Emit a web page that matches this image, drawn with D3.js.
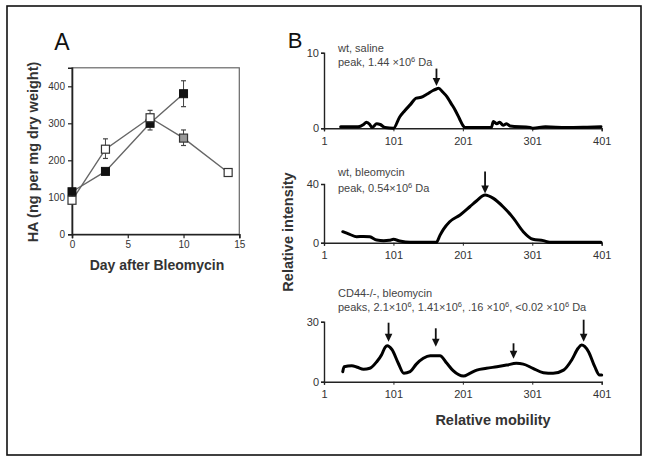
<!DOCTYPE html>
<html><head><meta charset="utf-8">
<script src="https://cdn.jsdelivr.net/npm/d3@7"></script>
<style>
body{margin:0;background:#fff;}
text{font-family:"Liberation Sans",Arial,Helvetica,sans-serif;}
</style></head>
<body>
<svg id="c" width="649" height="464"></svg>
<script>
// ---------- Panel A data ----------
const daysBlack = [0, 3, 7, 10];
const haBlack   = [115, 170, 300, 380];
const errBlackLo = [0, 0, 18, 35];
const errBlackHi = [0, 0, 0, 35];
const daysOpen  = [0, 3, 7, 10, 14];
const haOpen    = [92, 230, 315, 260, 167];
const errOpenLo = [0, 25, 0, 20, 0];
const errOpenHi = [0, 28, 20, 22, 0];
const openFill  = ["#fff", "#fff", "#fff", "#999", "#fff"];
const aXTicks = [0, 5, 10, 15];
const aYTicks = [0, 100, 200, 300, 400];

// ---------- Panel B data ----------
const mobTicks = [1, 101, 201, 301, 401];
const salineMob = [25,50,58,62,67,70,77,82,89,101,110,117,125,134,141,149,158,163,166,172,178,184,190,196,201,204,242,245,250,254,259,264,269,298,302,320,350,380,400];
const salineVal = [0.2,0.2,0.5,0.8,0.5,0.1,0.6,0.5,0.1,0,1.5,2.3,3.1,4.0,4.1,4.5,5.0,5.2,5.3,4.8,4.2,3.3,2.4,1.3,0.4,0.1,0.1,0.9,0.6,0.8,0.4,0.6,0.3,0.1,0,0.2,0.1,0.15,0.2];
const bleoMob = [28,38,48,58,67,77,87,95,101,110,125,163,168,173,182,197,211,221,233,245,259,274,288,302,317,326,360,400];
const bleoVal = [7.5,5.7,4.1,4.3,4,1.8,1.4,1.6,2.3,1.2,0.3,0.3,5,9.1,14.3,18.9,24.5,28.6,32.5,30.2,24.5,16.6,7.5,2.3,1.4,0.3,0.3,0.3];
const cd44Mob = [28,30,41,49,58,67,77,84,89,92,99,108,116,125,134,144,154,168,178,187,202,211,221,235,250,264,278,288,302,317,331,346,358,367,372,382,391,398,401];
const cd44Val = [5,7.5,8,7.2,6.2,6.7,10,13.5,17.2,18,16,9.2,4.2,5,8.8,11.7,13,13,9.2,5.5,2.8,4.2,5.8,6.7,7.5,8.3,9.2,8.8,6.7,4.5,4.2,5.8,11,16.7,18.3,15,7.5,3.3,3.3];
const arrowsSaline = [{m:163, top:7.9, bot:5.6}];
const arrowsBleo   = [{m:233, top:48.5, bot:33.5}];
const arrowsCd44   = [{m:94, top:29.5, bot:20}, {m:162, top:26.7, bot:17.5}, {m:274, top:19.2, bot:11.5}, {m:375, top:31, bot:20}];

const svg = d3.select("#c");
const tickCol = "#333";

// outer frame
svg.append("rect").attr("x",7).attr("y",6).attr("width",634).attr("height",449)
  .attr("fill","none").attr("stroke","#111").attr("stroke-width",1.6);

// ================= Panel A =================
const ax = d3.scaleLinear().domain([0,15]).range([72,239.3]);
const ay = d3.scaleLinear().domain([0,450]).range([234.3,67.8]);
const gA = svg.append("g");
gA.append("rect").attr("x",ax(0)).attr("y",ay(450)).attr("width",ax(15)-ax(0)).attr("height",ay(0)-ay(450))
  .attr("fill","none").attr("stroke","#666").attr("stroke-width",1.2);
const axB = gA.append("g").attr("transform",`translate(0,${ay(0)})`)
  .call(d3.axisBottom(ax).tickValues(aXTicks).tickSize(4).tickPadding(3));
const axL = gA.append("g").attr("transform",`translate(${ax(0)},0)`)
  .call(d3.axisLeft(ay).tickValues(aYTicks).tickSize(4).tickPadding(3));
[axB, axL].forEach(g=>{
  g.select(".domain").attr("stroke","#222").attr("stroke-width",1.6);
  g.selectAll(".tick line").attr("stroke","#222").attr("stroke-width",1.2);
  g.selectAll("text").attr("font-size",10).attr("fill",tickCol).attr("font-family","Liberation Sans, Arial, sans-serif");
});

const line = d3.line();
const blackPts = daysBlack.map((d,i)=>[ax(d), ay(haBlack[i])]);
const openPts = daysOpen.map((d,i)=>[ax(d), ay(haOpen[i])]);
gA.append("path").attr("d",line(openPts)).attr("fill","none").attr("stroke","#666").attr("stroke-width",1.4);
gA.append("path").attr("d",line(blackPts)).attr("fill","none").attr("stroke","#666").attr("stroke-width",1.4);

function errBars(days, vals, lo, hi){
  days.forEach((d,i)=>{
    const x = ax(d);
    if(hi[i]>0){
      gA.append("line").attr("x1",x).attr("x2",x).attr("y1",ay(vals[i])).attr("y2",ay(vals[i]+hi[i])).attr("stroke","#444").attr("stroke-width",1);
      gA.append("line").attr("x1",x-2.5).attr("x2",x+2.5).attr("y1",ay(vals[i]+hi[i])).attr("y2",ay(vals[i]+hi[i])).attr("stroke","#444").attr("stroke-width",1.2);
    }
    if(lo[i]>0){
      gA.append("line").attr("x1",x).attr("x2",x).attr("y1",ay(vals[i])).attr("y2",ay(vals[i]-lo[i])).attr("stroke","#444").attr("stroke-width",1);
      gA.append("line").attr("x1",x-2.5).attr("x2",x+2.5).attr("y1",ay(vals[i]-lo[i])).attr("y2",ay(vals[i]-lo[i])).attr("stroke","#444").attr("stroke-width",1.2);
    }
  });
}
errBars(daysBlack, haBlack, errBlackLo, errBlackHi);
errBars(daysOpen, haOpen, errOpenLo, errOpenHi);

const sq = 8;
gA.selectAll(".bsq").data(daysBlack).enter().append("rect")
  .attr("x",(d)=>ax(d)-sq/2).attr("y",(d,i)=>ay(haBlack[i])-sq/2).attr("width",sq).attr("height",sq)
  .attr("fill","#111").attr("stroke","#111");
gA.selectAll(".osq").data(daysOpen).enter().append("rect")
  .attr("x",(d)=>ax(d)-sq/2).attr("y",(d,i)=>ay(haOpen[i])-sq/2).attr("width",sq).attr("height",sq)
  .attr("fill",(d,i)=>openFill[i]).attr("stroke","#333").attr("stroke-width",1.2);

svg.append("text").attr("x",62).attr("y",50).attr("text-anchor","middle").attr("font-size",23).attr("fill","#111").text("A");
svg.append("text").attr("x",157).attr("y",270).attr("text-anchor","middle").attr("font-size",14).attr("font-weight","bold").attr("fill","#333").text("Day after Bleomycin");
svg.append("text").attr("transform","translate(38,152) rotate(-90)").attr("text-anchor","middle").attr("font-size",14.5).attr("font-weight","bold").attr("fill","#333").text("HA (ng per mg dry weight)");

// ================= Panel B =================
const bx = d3.scaleLinear().domain([1,401]).range([324,601.7]);
svg.append("text").attr("x",295).attr("y",48).attr("text-anchor","middle").attr("font-size",22).attr("fill","#111").text("B");

function subplot(mob, val, yMax, y0, yTop, arrows, labels, tspans){
  const y = d3.scaleLinear().domain([0,yMax]).range([y0,yTop]);
  const g = svg.append("g");
  const xa = g.append("g").attr("transform",`translate(0,${y0})`)
    .call(d3.axisBottom(bx).tickValues(mobTicks).tickSize(3).tickPadding(6));
  const ya = g.append("g").attr("transform",`translate(${bx(1)},0)`)
    .call(d3.axisLeft(y).tickValues([0,yMax]).tickSize(3).tickPadding(2));
  [xa, ya].forEach(a=>{
    a.select(".domain").attr("stroke","#222").attr("stroke-width",1.4);
    a.selectAll(".tick line").attr("stroke","#222");
    a.selectAll("text").attr("font-size",11).attr("fill",tickCol).attr("font-family","Liberation Sans, Arial, sans-serif");
  });
  const pts = mob.map((m,i)=>[bx(m), y(val[i])]);
  g.append("path").attr("d",d3.line().curve(d3.curveMonotoneX)(pts)).attr("fill","none")
    .attr("stroke","#000").attr("stroke-width",3).attr("stroke-linejoin","round").attr("stroke-linecap","round");
  arrows.forEach(a=>{
    const x = bx(a.m), yt = y(a.top), yb = y(a.bot);
    g.append("line").attr("x1",x).attr("x2",x).attr("y1",yt).attr("y2",yb-6).attr("stroke","#111").attr("stroke-width",1.8);
    g.append("path").attr("d",`M${x-3.8},${yb-8} L${x+3.8},${yb-8} L${x},${yb} Z`).attr("fill","#111");
  });
  labels.forEach((t,i)=>{
    const tx = g.append("text").attr("x",338).attr("y",tspans[i]).attr("font-size",11).attr("fill","#444");
    t.forEach(part=>{
      const ts = tx.append("tspan").text(part.t);
      if(part.sup){ ts.attr("font-size",7.5).attr("dy",-4); }
      else if(part.after){ ts.attr("dy",4); }
    });
  });
}

subplot(salineMob, salineVal, 10, 128.3, 52.7, arrowsSaline,
  [[{t:"wt, saline"}],
   [{t:"peak, 1.44 ×10"},{t:"6",sup:true},{t:" Da",after:true}]],
  [52, 65.5]);
subplot(bleoMob, bleoVal, 40, 242.7, 184, arrowsBleo,
  [[{t:"wt, bleomycin"}],
   [{t:"peak, 0.54×10"},{t:"6",sup:true},{t:" Da",after:true}]],
  [175.5, 191.5]);
subplot(cd44Mob, cd44Val, 30, 381.7, 321.7, arrowsCd44,
  [[{t:"CD44-/-, bleomycin"}],
   [{t:"peaks, 2.1×10"},{t:"6",sup:true},{t:", 1.41×10",after:true},{t:"6",sup:true},{t:", .16 ×10",after:true},{t:"6",sup:true},{t:", <0.02 ×10",after:true},{t:"6",sup:true},{t:" Da",after:true}]],
  [297, 310.5]);

svg.append("text").attr("transform","translate(293,232) rotate(-90)").attr("text-anchor","middle").attr("font-size",14.5).attr("font-weight","bold").attr("fill","#333").text("Relative intensity");
svg.append("text").attr("x",493).attr("y",425).attr("text-anchor","middle").attr("font-size",14.5).attr("font-weight","bold").attr("fill","#333").text("Relative mobility");
</script>
</body></html>
